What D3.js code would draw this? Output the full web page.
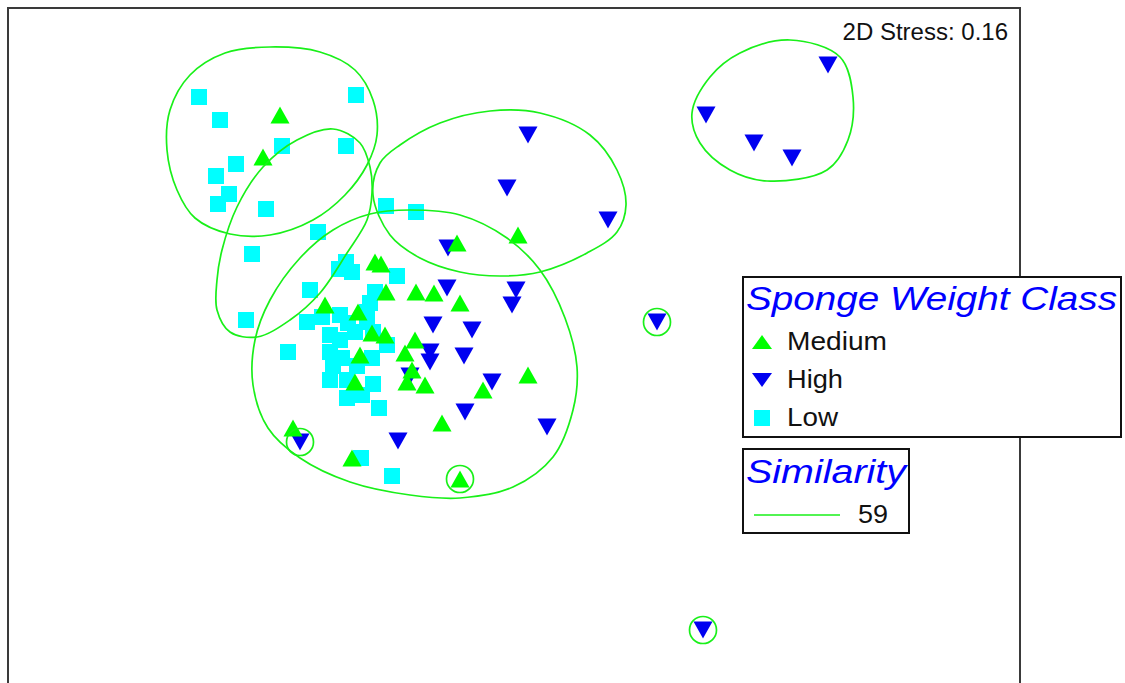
<!DOCTYPE html>
<html>
<head>
<meta charset="utf-8">
<script src="https://cdn.jsdelivr.net/npm/d3@7"></script>
<style>
  body { margin: 0; background: #fff; }
  text { font-family: "Liberation Sans", Arial, sans-serif; }
</style>
</head>
<body>
<script>
// MDS ordination, coordinates (arbitrary MDS units)
const categories = ["Medium", "High", "Low"];

const mediumX = [-234, -251, -57, 4, -139, -133, -128, -98, -80, -54, -189, -156, -142, -129, -99, -109, -154, -102, -107, -89, -159, 14, -31, -72, -221, -162, -54];
const mediumY = [225, 183, 97, 105, 78, 76, 48, 48, 47, 37, 35, 28, 7, 5, 0, -13, -15, -30, -42, -45, -42, -35, -50, -83, -88, -118, -139];

const highX = [314, 192, 240, 278, 14, -7, 94, -66, -67, 2, -2, -81, -42, -84, -84, -50, -104, -22, -49, 33, -116, -214, 143, 189];
const highY = [275, 225, 197, 182, 205, 152, 120, 92, 52, 50, 35, 15, 10, -12, -22, -16, -36, -42, -72, -87, -101, -102, 18, -290];

const lowX = [-315, -158, -294, -232, -168, -278, -298, -285, -296, -248, -128, -98, -196, -262, -168, -175, -162, -117, -204, -268, -139, -144, -147, -207, -192, -174, -166, -147, -226, -184, -174, -159, -141, -127, -184, -172, -181, -157, -142, -184, -167, -141, -167, -152, -135, -153, -122];
const lowY = [243, 245, 220, 194, 194, 176, 164, 146, 136, 131, 134, 128, 108, 86, 78, 71, 68, 64, 50, 20, 48, 37, 28, 18, 23, 25, 17, 18, -12, 5, 0, 8, 8, -5, -12, -18, -26, -26, -18, -40, -40, -44, -58, -55, -68, -118, -136];

// similarity 59 cluster outlines
const contourA = [[-244, 293], [-194, 288], [-159, 270], [-141, 240], [-137, 205], [-147, 175], [-169, 145], [-201, 120], [-244, 105], [-284, 106], [-319, 122], [-337, 150], [-347, 190], [-344, 230], [-324, 265], [-289, 287]];
const contourB = [[-181, 211], [-154, 197], [-144, 173], [-142, 147], [-147, 120], [-167, 87], [-194, 47], [-224, 20], [-257, 3], [-284, 8], [-297, 30], [-297, 60], [-292, 90], [-277, 133], [-251, 173], [-217, 200]];
const contourC = [[-141, 145], [-134, 177], [-114, 195], [-74, 217], [-24, 229], [26, 227], [76, 205], [103, 170], [112, 135], [103, 108], [73, 87], [26, 68], [-14, 64], [-54, 68], [-94, 82], [-124, 105]];
const contourD = [[276, 300], [326, 283], [339, 243], [334, 200], [313, 170], [253, 159], [216, 170], [186, 197], [178, 227], [196, 263], [226, 287]];
const contourE = [[-144, 126], [-104, 130], [-54, 125], [-7, 102], [26, 70], [51, 22], [63, -27], [59, -70], [39, -117], [-1, -147], [-54, -158], [-104, -155], [-164, -142], [-214, -118], [-246, -88], [-261, -45], [-259, 0], [-244, 40], [-214, 82], [-181, 110]];
// single-sample groups
const singlesX = [-214, -54, 143, 189];
const singlesY = [-102, -139, 18, -290];

const stressLabel = "2D Stress: 0.16";
const legendTitle = "Sponge Weight Class";
const simTitle = "Similarity";
const simValue = "59";

const width = 1125;
const height = 683;
const frame = { left: 8, top: 8, right: 1020, bottom: 700 };

const colors = { Medium: "#00ff00", High: "#0000f0", Low: "#00ffff" };
const lineGreen = "#19f019";

const svg = d3.select("body")
  .append("svg")
  .attr("width", width)
  .attr("height", height);

const xScale = d3.scaleLinear()
  .domain([-506, 506])
  .range([frame.left, frame.right]);

const yScale = d3.scaleLinear()
  .domain([332, -360])
  .range([frame.top, frame.bottom]);

// frame
svg.append("rect")
  .attr("x", frame.left)
  .attr("y", frame.top)
  .attr("width", frame.right - frame.left)
  .attr("height", frame.bottom - frame.top)
  .attr("fill", "#fff")
  .attr("stroke", "#3a3a3a")
  .attr("stroke-width", 2);

// marker shapes
function markerPath(cat, w, h) {
  if (cat === "Medium") return `M0,${-h / 2}L${w / 2},${h / 2}L${-w / 2},${h / 2}Z`;
  if (cat === "High") return `M${-w / 2},${-h / 2}L${w / 2},${-h / 2}L0,${h / 2}Z`;
  return `M${-w / 2},${-h / 2}h${w}v${h}h${-w}Z`;
}

const seriesData = {
  Low: lowX.map((x, i) => ({ x: x, y: lowY[i] })),
  High: highX.map((x, i) => ({ x: x, y: highY[i] })),
  Medium: mediumX.map((x, i) => ({ x: x, y: mediumY[i] })),
};

["Low", "High", "Medium"].forEach((cat) => {
  const w = cat === "Low" ? 16 : 19;
  const h = cat === "Low" ? 16 : 17;
  svg.append("g")
    .selectAll("path")
    .data(seriesData[cat])
    .enter()
    .append("path")
    .attr("transform", (d) => `translate(${xScale(d.x)},${yScale(d.y)})`)
    .attr("d", markerPath(cat, w, h))
    .attr("fill", colors[cat]);
});

// cluster contours
const contourLine = d3.line()
  .x((d) => xScale(d[0]))
  .y((d) => yScale(d[1]))
  .curve(d3.curveCatmullRomClosed.alpha(0.5));

svg.append("g")
  .selectAll("path")
  .data([contourA, contourB, contourC, contourD, contourE])
  .enter()
  .append("path")
  .attr("d", contourLine)
  .attr("fill", "none")
  .attr("stroke", lineGreen)
  .attr("stroke-width", 1.7);

svg.append("g")
  .selectAll("circle")
  .data(singlesX.map((x, i) => ({ x: x, y: singlesY[i] })))
  .enter()
  .append("circle")
  .attr("cx", (d) => xScale(d.x))
  .attr("cy", (d) => yScale(d.y))
  .attr("r", 13.5)
  .attr("fill", "none")
  .attr("stroke", lineGreen)
  .attr("stroke-width", 1.7);

// stress label
svg.append("text")
  .attr("x", 1008)
  .attr("y", 40)
  .attr("text-anchor", "end")
  .attr("font-size", 24)
  .attr("fill", "#111")
  .text(stressLabel);

// legend
const legend = svg.append("g");
legend.append("rect")
  .attr("x", 743).attr("y", 277)
  .attr("width", 378).attr("height", 160)
  .attr("fill", "#fff")
  .attr("stroke", "#111")
  .attr("stroke-width", 2);

legend.append("text")
  .attr("x", 746).attr("y", 310)
  .attr("font-size", 34)
  .attr("font-style", "italic")
  .attr("fill", "#0000ff")
  .attr("textLength", 371)
  .attr("lengthAdjust", "spacingAndGlyphs")
  .text(legendTitle);

const itemWidths = { Medium: 100, High: 56, Low: 51 };
categories.forEach((cat, i) => {
  const cy = 342 + i * 38;
  legend.append("path")
    .attr("transform", `translate(762,${cy})`)
    .attr("d", cat === "Low" ? markerPath(cat, 16, 16) : markerPath(cat, 20, 14))
    .attr("fill", colors[cat]);
  legend.append("text")
    .attr("x", 787).attr("y", cy + 8)
    .attr("font-size", 26)
    .attr("fill", "#111")
    .attr("textLength", itemWidths[cat])
    .attr("lengthAdjust", "spacingAndGlyphs")
    .text(cat);
});

const simBox = svg.append("g");
simBox.append("rect")
  .attr("x", 743).attr("y", 449)
  .attr("width", 166).attr("height", 84)
  .attr("fill", "#fff")
  .attr("stroke", "#111")
  .attr("stroke-width", 2);

simBox.append("text")
  .attr("x", 746).attr("y", 483)
  .attr("font-size", 34)
  .attr("font-style", "italic")
  .attr("fill", "#0000ff")
  .attr("textLength", 160)
  .attr("lengthAdjust", "spacingAndGlyphs")
  .text(simTitle);

simBox.append("line")
  .attr("x1", 754).attr("x2", 840)
  .attr("y1", 515).attr("y2", 515)
  .attr("stroke", lineGreen)
  .attr("stroke-width", 1.7);

simBox.append("text")
  .attr("x", 858).attr("y", 523)
  .attr("font-size", 26)
  .attr("fill", "#111")
  .attr("textLength", 30)
  .attr("lengthAdjust", "spacingAndGlyphs")
  .text(simValue);
</script>
</body>
</html>
